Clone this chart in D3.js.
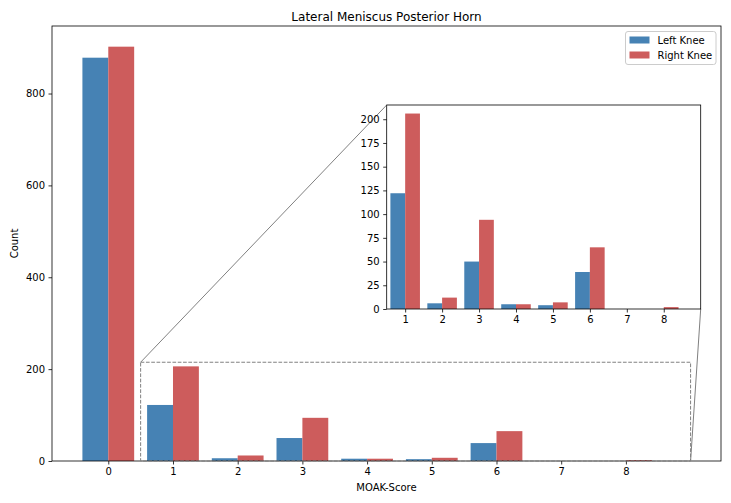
<!DOCTYPE html>
<html><head><meta charset="utf-8">
<script src="https://cdn.jsdelivr.net/npm/d3@7"></script>
<style>
body{margin:0;background:#fff;}
text{font-family:"DejaVu Sans",sans-serif;fill:#000;}
</style></head>
<body><svg id="c" width="731" height="503"></svg>
<script>
const categories = [0,1,2,3,4,5,6,7,8];
const leftKnee  = [878,122,6,50,5,4,39,0,0];
const rightKnee = [902,206,12,94,5,7,65,0,2];
const mainYTicks = [0,200,400,600,800];
const insetYTicks = [0,25,50,75,100,125,150,175,200];
const insetXTicks = [1,2,3,4,5,6,7,8];
const seriesNames = ["Left Knee","Right Knee"];
const colors = ["#4682b4","#cd5c5c"];
const barW = 0.4;

const svg = d3.select("#c");
const M = {l:52, r:721, t:26, b:461};
const x = d3.scaleLinear().domain([-0.87, 9.47]).range([M.l, M.r]);
const y = d3.scaleLinear().domain([0, 947]).range([M.b, M.t]);

const I = {l:386.7, r:700.7, t:105, b:309};
const ix = d3.scaleLinear().domain([0.5, 9]).range([I.l, I.r]);
const iy = d3.scaleLinear().domain([0, 215]).range([I.b, I.t]);

function drawBars(g, xs, ys, cats) {
  const data = [];
  cats.forEach((c,i)=>{
    data.push({x0:c-barW, v:leftKnee[i], col:colors[0]});
    data.push({x0:c, v:rightKnee[i], col:colors[1]});
  });
  g.selectAll("rect.bar").data(data).enter().append("rect")
    .attr("x", d=>xs(d.x0)).attr("width", d=>xs(d.x0+barW)-xs(d.x0))
    .attr("y", d=>ys(d.v)).attr("height", d=>ys(0)-ys(d.v))
    .attr("fill", d=>d.col);
}

// main bars
const gMain = svg.append("g");
drawBars(gMain, x, y, categories);

// main axes
const xAxis = d3.axisBottom(x).tickValues(categories).tickFormat(d3.format("d")).tickSize(3.5).tickPadding(3.5);
const yAxis = d3.axisLeft(y).tickValues(mainYTicks).tickFormat(d3.format("d")).tickSize(3.5).tickPadding(3.5);
const gx = svg.append("g").attr("transform",`translate(0,${M.b})`).call(xAxis);
const gy = svg.append("g").attr("transform",`translate(${M.l},0)`).call(yAxis);
[gx,gy].forEach(g=>{g.select(".domain").remove();
  g.selectAll("text").attr("font-size",10).attr("font-family","DejaVu Sans").attr("fill","#000");
  g.selectAll("line").attr("stroke","#000").attr("stroke-width",0.8);});
svg.append("rect").attr("x",M.l).attr("y",M.t).attr("width",M.r-M.l).attr("height",M.b-M.t)
  .attr("fill","none").attr("stroke","#000").attr("stroke-width",0.8);

// indicator rect
const rx0 = x(0.5), rx1 = x(9), ry0 = y(215), ry1 = y(0);
svg.append("rect").attr("x",rx0).attr("y",ry0).attr("width",rx1-rx0).attr("height",ry1-ry0)
  .attr("fill","none").attr("stroke","#808080").attr("stroke-width",1).attr("stroke-dasharray","3.7,1.6");
// connectors
svg.append("line").attr("x1",rx0).attr("y1",ry0).attr("x2",I.l).attr("y2",I.t).attr("stroke","#808080").attr("stroke-width",1);
svg.append("line").attr("x1",rx1).attr("y1",ry1).attr("x2",I.r).attr("y2",I.b).attr("stroke","#808080").attr("stroke-width",1);

// inset
svg.append("rect").attr("x",I.l).attr("y",I.t).attr("width",I.r-I.l).attr("height",I.b-I.t).attr("fill","#fff");
const gIn = svg.append("g");
gIn.append("clipPath").attr("id","ic").append("rect").attr("x",I.l).attr("y",I.t).attr("width",I.r-I.l).attr("height",I.b-I.t);
const gInBars = gIn.append("g").attr("clip-path","url(#ic)");
drawBars(gInBars, ix, iy, categories);
const ixAxis = d3.axisBottom(ix).tickValues(insetXTicks).tickFormat(d3.format("d")).tickSize(3.5).tickPadding(3.5);
const iyAxis = d3.axisLeft(iy).tickValues(insetYTicks).tickFormat(d3.format("d")).tickSize(3.5).tickPadding(3.5);
const gix = svg.append("g").attr("transform",`translate(0,${I.b})`).call(ixAxis);
const giy = svg.append("g").attr("transform",`translate(${I.l},0)`).call(iyAxis);
[gix,giy].forEach(g=>{g.select(".domain").remove();
  g.selectAll("text").attr("font-size",10).attr("font-family","DejaVu Sans").attr("fill","#000");
  g.selectAll("line").attr("stroke","#000").attr("stroke-width",0.8);});
svg.append("rect").attr("x",I.l).attr("y",I.t).attr("width",I.r-I.l).attr("height",I.b-I.t)
  .attr("fill","none").attr("stroke","#000").attr("stroke-width",0.8);

// title & labels
svg.append("text").attr("x",(M.l+M.r)/2).attr("y",21).attr("text-anchor","middle").attr("font-size",12).text("Lateral Meniscus Posterior Horn");
svg.append("text").attr("x",(M.l+M.r)/2).attr("y",491).attr("text-anchor","middle").attr("font-size",10).text("MOAK-Score");
svg.append("text").attr("transform",`translate(18,${(M.t+M.b)/2}) rotate(-90)`).attr("text-anchor","middle").attr("font-size",10).text("Count");

// legend
const lg = svg.append("g");
lg.append("rect").attr("x",625.5).attr("y",31.5).attr("width",90.5).attr("height",33).attr("rx",2.5)
  .attr("fill","#fff").attr("fill-opacity",0.8).attr("stroke","#cccccc").attr("stroke-width",1);
seriesNames.forEach((n,i)=>{
  lg.append("rect").attr("x",629.5).attr("y",36.5+i*15).attr("width",20).attr("height",7).attr("fill",colors[i]);
  lg.append("text").attr("x",657.5).attr("y",44+i*15).attr("font-size",10).text(n);
});
</script></body></html>
